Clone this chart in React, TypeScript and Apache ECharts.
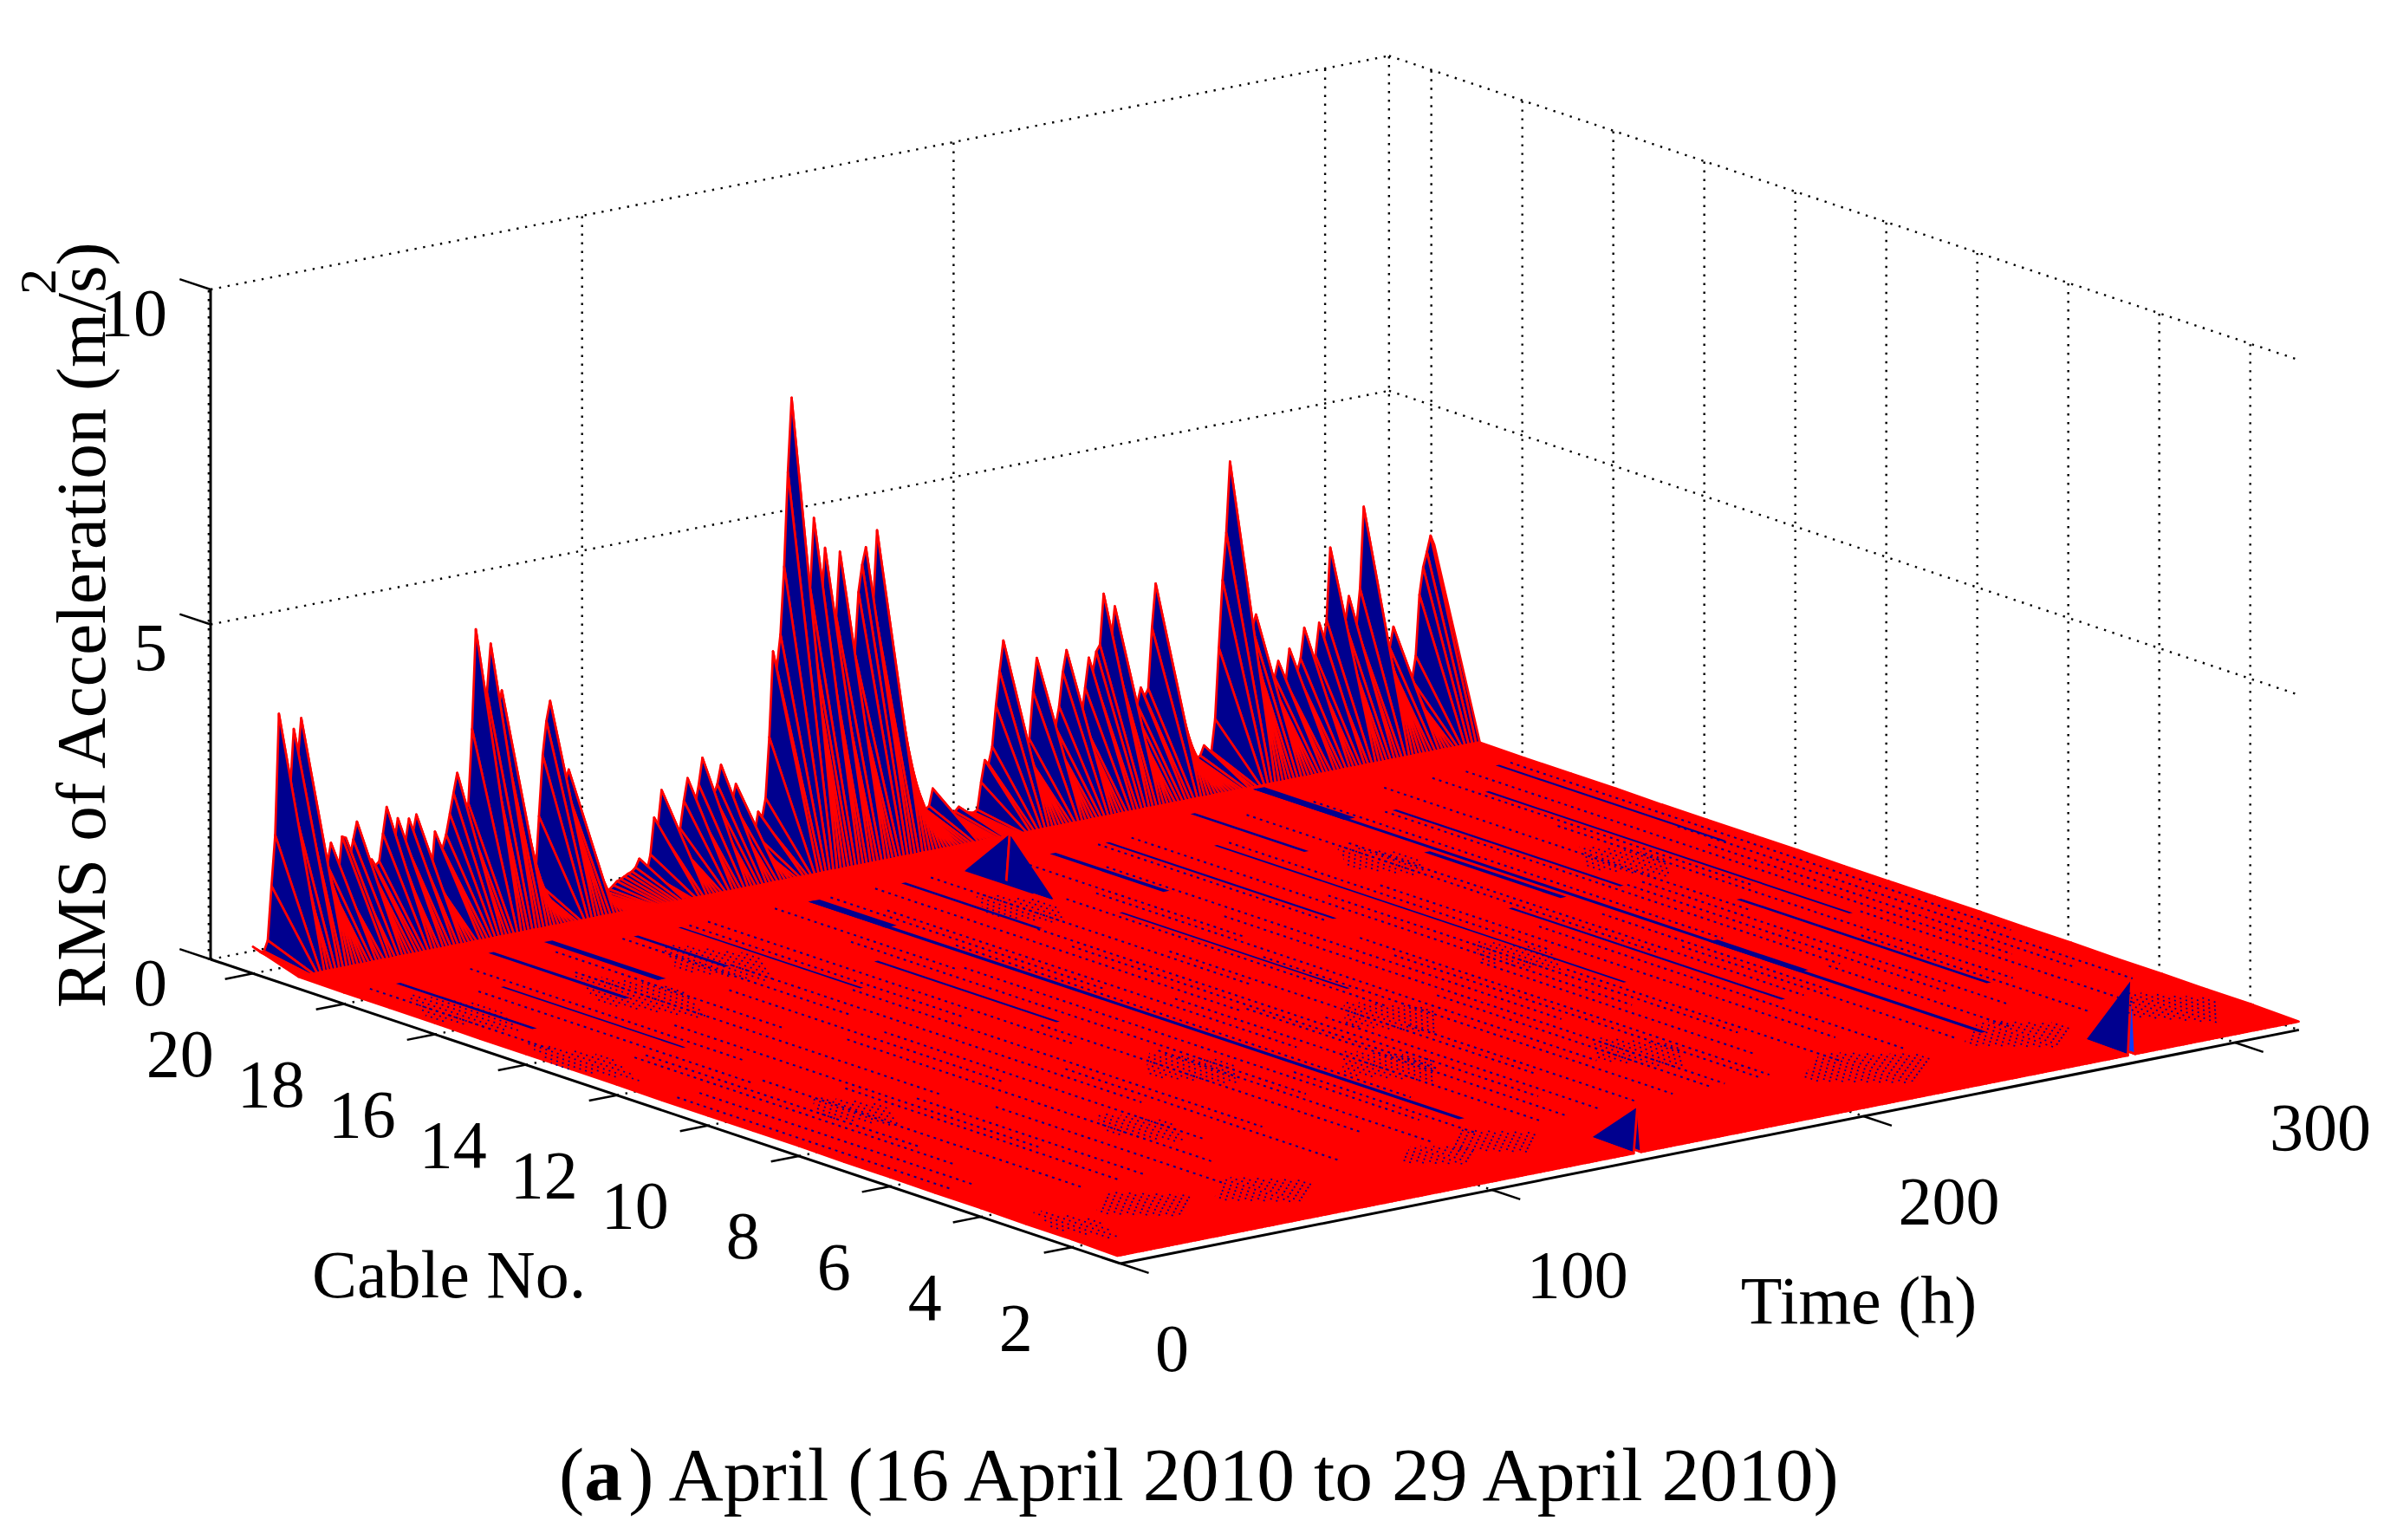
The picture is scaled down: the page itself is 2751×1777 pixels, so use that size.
import React, { useEffect, useRef } from "react";
import * as echarts from "echarts";

// RMS on the rearmost cable (No. 20), one value per hour from t = 0
const rearCableRms = [
  0.4,0.35,0.3,0.3,0.45,1.25,2.0,3.8,3.0,2.3,
  2.6,3.53,3.0,3.67,3.0,2.5,2.1,1.8,1.5,1.3,
  1.4,1.72,1.35,1.2,1.78,1.75,1.4,1.7,1.96,1.6,
  1.4,1.3,1.35,1.25,1.3,1.7,2.09,1.8,1.5,1.89,
  1.6,1.5,1.85,1.6,1.89,1.5,1.3,1.1,0.95,1.58,
  1.4,1.3,1.5,1.8,2.1,2.39,1.9,1.8,1.9,3.0,
  4.48,3.6,3.2,3.5,4.22,3.5,3.2,3.49,2.8,2.2,
  1.7,1.3,1.0,0.75,0.6,0.5,0.55,1.5,2.4,2.9,
  3.19,2.6,2.3,2.0,1.9,2.11,1.5,1.0,0.65,0.4,
  0.25,0.2,0.18,0.15,0.16,0.18,0.2,0.25,0.3,0.32,
  0.35,0.38,0.4,0.45,0.57,0.4,0.35,0.6,1.14,1.0,
  1.53,1.2,0.95,0.8,0.7,0.9,1.3,1.63,1.3,1.2,
  1.5,1.89,1.5,1.2,1.3,1.45,1.73,1.35,1.1,1.15,
  1.4,1.1,0.85,0.6,0.5,0.6,0.92,0.8,1.1,2.0,
  3.27,3.0,3.5,4.5,5.9,7.0,5.5,4.5,4.0,3.9,
  4.1,5.14,4.3,3.8,4.66,3.9,3.3,3.6,4.56,3.7,
  3.1,2.8,3.0,3.9,4.3,4.55,4.0,3.7,4.77,3.9,
  3.2,2.6,2.1,1.7,1.3,1.0,0.8,0.65,0.55,0.5,
  0.48,0.46,0.5,0.75,0.55,0.42,0.38,0.35,0.33,0.34,
  0.4,0.35,0.3,0.28,0.27,0.3,0.7,1.02,0.95,1.2,
  1.8,2.3,2.75,2.2,1.8,1.5,1.3,1.1,1.0,1.2,
  1.9,2.39,1.8,1.5,1.3,1.2,1.3,1.6,2.1,2.42,
  1.9,1.6,1.4,1.35,1.8,2.24,2.0,2.31,2.4,3.15,
  2.6,2.4,2.93,2.3,1.9,1.5,1.3,1.35,1.4,1.64,
  1.5,1.6,2.5,3.15,2.5,2.0,1.6,1.3,1.0,0.8,
  0.65,0.55,0.5,0.45,0.42,0.45,0.59,0.5,0.48,0.95,
  2.0,3.0,3.7,4.75,3.8,3.2,2.8,2.3,2.1,2.2,
  2.39,2.0,1.7,1.5,1.35,1.4,1.63,1.4,1.3,1.78,
  1.5,1.4,1.6,2.05,1.7,1.5,1.6,2.08,1.7,2.1,
  3.17,2.6,2.1,1.9,2.0,2.39,2.0,1.9,2.47,3.68,
  3.0,2.5,2.1,1.8,1.6,1.4,1.5,1.8,1.5,1.2,
  1.0,0.85,0.95,1.3,2.2,2.6,2.82,3.05,2.9,
];
// Typical RMS on cables 1..19 (index 0 = cable 1)
const cableFloorRms = [0.1,0.12,0.12,0.13,0.13,0.14,0.14,0.15,0.15,0.15,0.15,0.16,0.16,0.16,0.16,0.17,0.17,0.17,0.18];
// Isolated peaks away from the rear cable: hour, cable, RMS
const isolatedPeaks = [[167,17,0.95],[140,1,0.8],[273,1,1.25]];
const brightFaces = [[273,1]];
// Dark bands along a cable line: hour, cable from, cable to, width in hours
const darkBands = [
  [125,18,3.7,1.5],[125,18,16.3,3],[257,19,3,1.4],[257,19,17,3],[257,9,7,2.5],[283,10.5,5,1.2],[240,12,6,1],
  [60,18.5,16,2.2],[167,18,16.5,2],[106,15,11,1],[254,15,12,1.6],[172,15,10,0.8],[222,17,8,0.8],
  [30,17,13,0.8],[14,18,15,1.2],[90,18,14,0.8],[205,18,13,1],[295,17,9,0.9],[150,18,15,1.2],
  [190,18,15.5,1.6],[78,18,16,1.2],[45,18.5,15.5,1.4],[234,18.5,16,1.2],[310,18,13,1],[270,17,12,1],
];
// Dotted lines: hour, cable from, cable to
const dottedLines = [
  [4,11,5],[7,18,14],[10,11,5],[17,13,6],[20,13,7],[24,17,11],[27,11,4],[34,18,12],[37,10,4],[40,14,6],
  [44,9,4],[50,17,9],[53,8,3],[57,18,13],[62,12,4],[67,15,9],[72,12,5],[75,18,13],[80,16,7],[84,9,3],
  [88,14,5],[93,18,12],[98,18,10],[102,11,4],[109,9,3],[112,16,6],[116,18,14],[118,14,4],[121,7,3],[128,15,5],
  [131,18,12],[134,17,8],[138,11,3],[143,18,10],[145,10,3],[147,14,6],[150,15,4],[154,9,3],[158,18,11],[161,13,5],
  [164,8,3],[170,16,9],[174,12,3],[178,16,5],[181,18,13],[184,9,3],[188,14,3],[193,17,7],[197,11,3],[200,12,3],
  [203,18,13],[208,10,4],[212,18,7],[216,14,5],[219,9,3],[226,17,10],[230,14,4],[236,11,3],[243,18,9],[246,16,6],
  [250,9,3],[253,11,6],[261,18,9],[265,7,3],[268,17,7],[272,12,5],[276,12,4],[280,18,10],[286,8,3],[290,15,5],
  [293,18,11],[298,9,3],[302,18,6],[306,13,5],[310,14,4],[314,18,7],
];
// Speckled patches: hour from, hour to, cable from, cable to
const specklePatches = [
  [2,12,1.5,3.5],[18,40,2,3.6],[45,68,1.6,3.2],[205,235,1.5,3.5],[250,275,1.8,3.5],[292,312,1.5,3.5],
  [130,150,5.5,7.5],[155,175,7.5,9.5],[110,130,1.8,3.3],[95,112,1.8,3],[3,18,15,17.5],[0,12,12,14.5],
  [40,58,14,17],[210,225,9,11],[150,165,15,17],[70,88,15,17.5],[96,115,7,9],[180,198,4,6],[235,250,14,16],
  [20,34,8,10],[275,292,12,14],[60,74,5,7],
];
const zTicks = [0,5,10];
const cableTicks = [20,18,16,14,12,10,8,6,4,2];
const timeTicks = [0,100,200,300];

const C0 = 0.93, C1 = 20.93, T1 = 317.2, Z1 = 10;
const BLUE = "#00008F", RED = "#FF0000", FONT = "Liberation Serif";

const project = (t: number, c: number, z: number) => [
  1293 + 4.287 * t - 52.5 * (c - C0),
  1458 - 0.85 * t - 17.55 * (c - C0) - 77.3 * z,
];

const peakAt = new Map(isolatedPeaks.map((p) => [p[0] + ":" + p[1], p[2]]));
const height = (t: number, c: number) => {
  if (c === 20) return rearCableRms[t];
  const p = peakAt.get(t + ":" + c);
  return p !== undefined ? p : cableFloorRms[c - 1];
};

// cells ordered from the far corner towards the viewer
const cells: number[][] = [];
for (let t = rearCableRms.length - 2; t >= 0; t--) for (let c = 19; c >= 1; c--) cells.push([t, c]);
const bright = new Set(brightFaces.map((b) => b[0] + ":" + b[1]));

const gridSegments: number[][] = [];
[0, 5, 10].forEach((z) => {
  gridSegments.push([0, C1, z, T1, C1, z], [T1, C1, z, T1, C0, z]);
});
timeTicks.slice(1).forEach((t) => {
  gridSegments.push([t, C1, 0, t, C1, Z1], [t, C1, 0, t, C0, 0]);
});
gridSegments.push([T1, C1, 0, T1, C1, Z1], [-0.5, C1, 0, -0.5, C1, Z1]);
cableTicks.forEach((c) => {
  gridSegments.push([T1, c, 0, T1, c, Z1], [0, c, 0, T1, c, 0]);
});
const axisSegments: number[][] = [
  [0, C1, 0, 0, C1, Z1],
  [0, C1, 0, 0, C0, 0],
  [0, C0, 0, T1, C0, 0],
];
const tickSegments = [
  ...zTicks.map((z) => [0, C1, z, 0, C1 + 0.68, z]),
  ...cableTicks.map((c) => [0, c, 0, -7.5, c, 0]),
  ...timeTicks.map((t) => [t, C0, 0, t, C0 - 0.62, 0]),
];
const speckles: number[][] = [];
specklePatches.forEach(([a, b, c1, c2]) => {
  for (let t = a; t <= b; t += 2) {
    const f = Math.abs((2 * (t - a)) / (b - a) - 1) * 0.42 * (c2 - c1);
    speckles.push([t, c1 + f, c2 - f]);
  }
});

const textEl = (x: number, y: number, text: string, align: string) => ({
  type: "text",
  style: { x, y, text, fill: "#000", fontFamily: FONT, fontSize: 78, textAlign: align, textVerticalAlign: "middle" },
});
const title = (x: number, y: number, text: string, fontSize: number, align: string, rotation = 0) => ({
  type: "text", x, y, rotation, z: 10,
  style: { text, fill: "#000", fontFamily: FONT, fontSize, textAlign: align, textVerticalAlign: "middle" },
});

const App = () => {
  const ref = useRef<HTMLDivElement>(null);
  useEffect(() => {
    document.body.style.margin = "0";
    const chart = echarts.init(ref.current!, undefined, { renderer: "svg" });
    const base = { type: "custom", coordinateSystem: "cartesian2d", silent: true, clip: false, progressive: 0 };
    const segSeries = (data: number[][], z: number, style: any) => ({
      ...base, z, data,
      renderItem: (_: any, api: any) => {
        const a = api.coord(project(api.value(0), api.value(1), api.value(2)));
        const b = api.coord(project(api.value(3), api.value(4), api.value(5)));
        return { type: "line", shape: { x1: a[0], y1: a[1], x2: b[0], y2: b[1] }, style };
      },
    });
    chart.setOption({
      animation: false,
      grid: { left: 0, top: 0, width: 2751, height: 1777 },
      xAxis: { type: "value", min: 0, max: 2751, show: false },
      yAxis: { type: "value", min: 0, max: 1777, inverse: true, show: false },
      series: [
        segSeries(gridSegments, 1, { stroke: "#000", lineWidth: 2.4, lineDash: [2.4, 7.6] }),
        {
          ...base, z: 2, data: cells,
          renderItem: (_: any, api: any) => {
            const t = api.value(0), c = api.value(1);
            const pts = [
              [t, c + 1], [t + 1, c + 1], [t + 1, c], [t, c],
            ].map(([tt, cc]) => api.coord(project(tt, cc, height(tt, cc))));
            return {
              type: "polygon", shape: { points: pts },
              style: { fill: bright.has(t + ":" + c) ? "#0A3CFF" : BLUE, stroke: RED, lineWidth: 2.7, lineJoin: "round" },
            };
          },
        },
        {
          ...base, z: 3, data: darkBands,
          renderItem: (_: any, api: any) => {
            const t = api.value(0), a = api.value(1), b = api.value(2), w = api.value(3);
            const pts = [[t, a], [t + w, a], [t + w, b], [t, b]].map(([tt, cc]) => api.coord(project(tt, cc, 0.15)));
            return { type: "polygon", shape: { points: pts }, style: { fill: BLUE } };
          },
        },
        ...[dottedLines, speckles].map((data, i) => ({
          ...base, z: 3, data,
          renderItem: (_: any, api: any) => {
            const p = api.coord(project(api.value(0), api.value(1), 0.15));
            const q = api.coord(project(api.value(0), api.value(2), 0.15));
            return {
              type: "line", shape: { x1: p[0], y1: p[1], x2: q[0], y2: q[1] },
              style: { stroke: BLUE, lineWidth: i === 0 ? 2 : 1.7, lineDash: i === 0 ? [3, 5] : [2, 5] },
            };
          },
        })),
        segSeries(axisSegments, 4, { stroke: "#000", lineWidth: 3 }),
        segSeries(tickSegments, 4, { stroke: "#000", lineWidth: 2.5 }),
        {
          ...base, z: 5, data: zTicks.map((z) => [z]),
          renderItem: (_: any, api: any) => {
            const z = api.value(0);
            const p = api.coord(project(0, C1, z));
            return textEl(p[0] - 50, p[1] + 26, String(z), "right");
          },
        },
        {
          ...base, z: 5, data: cableTicks.map((c) => [c]),
          renderItem: (_: any, api: any) => {
            const c = api.value(0);
            const p = api.coord(project(0, c, 0));
            return textEl(p[0] - 45, p[1] + 92, String(c), "right");
          },
        },
        {
          ...base, z: 5, data: timeTicks.map((t) => [t]),
          renderItem: (_: any, api: any) => {
            const t = api.value(0);
            const p = api.coord(project(t, C0, 0));
            return textEl(p[0] + 40, p[1] + 97, String(t), "left");
          },
        },
      ],
      graphic: [
        title(518, 1470, "Cable No.", 78, "center"),
        title(2145, 1500, "Time (h)", 78, "center"),
        title(93, 1163, "RMS of Acceleration (m/s", 81.4, "left", Math.PI / 2),
        title(44, 325, "2", 60, "center", Math.PI / 2),
        title(93, 293, ")", 81.4, "center", Math.PI / 2),
        {
          type: "text", x: 1387, y: 1701, z: 10,
          style: {
            text: "{n|(}{b|a}{n|) April (16 April 2010 to 29 April 2010)}",
            textAlign: "center", textVerticalAlign: "middle", fill: "#000",
            rich: {
              n: { fontFamily: FONT, fontSize: 87.6, fill: "#000" },
              b: { fontFamily: FONT, fontSize: 87.6, fontWeight: "bold", fill: "#000" },
            },
          },
        },
      ],
    });
    return () => chart.dispose();
  }, []);
  return <div ref={ref} style={{ position: "fixed", left: 0, top: 0, width: 2751, height: 1777 }} />;
};

export default App;
